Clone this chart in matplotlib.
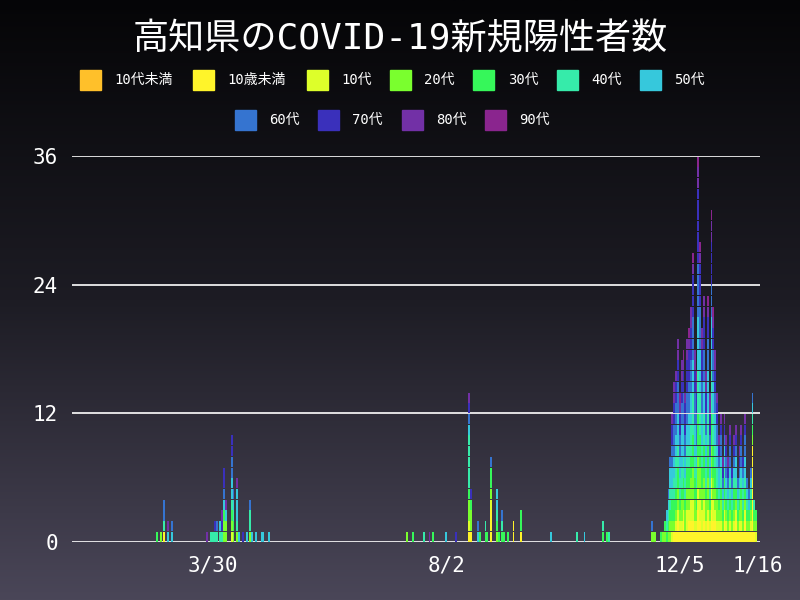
import numpy as np
import matplotlib
matplotlib.use("Agg")
import matplotlib.pyplot as plt
from matplotlib.colors import LinearSegmentedColormap

plt.rcParams['font.family'] = ['DejaVu Sans Mono', 'Noto Sans CJK JP']

age_labels = ['10代未満', '10歳未満', '10代', '20代', '30代', '40代', '50代', '60代', '70代', '80代', '90代']
age_codes = 'abcdefghijk'
age_colors = ['#FFC02A', '#FFF42A', '#DDFF2A', '#7AFF2E', '#36F75A', '#36EBAA', '#36C8DC',
              '#3574D0', '#3A30BB', '#7230A6', '#8A258E']

# sporadic days: offset in days from 2020-01-15, and ages of the cases (one letter per case)
early_offsets = [45, 47, 49, 51, 53,
                 72, 74, 75, 76, 77, 79, 80, 81, 82, 85, 86, 88, 89, 91, 93, 95, 96, 98, 101, 102, 105,
                 179, 182, 188, 191, 193, 200, 205, 212, 213, 217, 218, 221, 222, 224, 227, 228, 230,
                 231, 233, 236, 240, 256, 270, 274, 284, 286, 287]
early_cases = ['e', 'd', 'bfhh', 'gj', 'gh',
               'j', 'f', 'f', 'fi', 'fh', 'fg', 'fij', 'ddeghii', 'ddgj', 'cdefgghhii', 'defgh', 'dfgggj',
               'g', 'i', 'g', 'dffh', 'g', 'g', 'g', 'g', 'g',
               'd', 'e', 'f', 'j', 'e', 'g', 'i', 'bcddefffffghij', 'bddei', 'gh', 'e', 'ef', 'e',
               'bbbcdeeh', 'defgg', 'e', 'efh', 'e', 'e', 'bb', 'bee', 'g', 'f', 'g', 'ef', 'e', 'f']

# winter wave: consecutive days from 2020-11-19
winter_start = '2020-11-19'
winter_cases = ['', 'dh', 'd', 'd', '', '', 'e', 'd', 'de', 'efg', 'degfh', 'ddeffggh',
                'cdeefgghhiij', 'bdeeffgghhhiijj', 'bcdeefffgghhhiij', 'bbcddeeffggghhhiijj',
                'bcdeffgghhiijk', 'bcddeffgggghhiijj', 'bbcdeeffggghhhiijk', 'bddeffgghhiiij',
                'bccddeeffgghhhiiijj', 'bbcddeeffggghhhiiijk', 'bbccddeefffggghhhiiijj',
                'bbccdddeeeffffggghhhhiiiijk', 'bcddeeffggghhhiijj', 'bcdeeffgghhhiijk',
                'bbbccdddeeeeffffggggghhhhhiiiiiiijjk', 'bbccdddeeeffffgggghhhhiiiijk',
                'bccddeeffggghhhiiijj', 'bbccddeeefffggghhhiiijj', 'bcddeffggghhiijj',
                'bbcdddeeefffgggghhhiijk', 'bcdeffgghhiijj', 'bbbcccdddeeeffffggggghhhiiiijjk',
                'bbccddeeefffggghhhiijk', 'bbcddeeffggghhiijj', 'bcddeffgghhiij', 'bcdefgghij',
                'bcddeffghhij', 'bdefghij', 'bbcdeefgghij', 'bcdefghhij', 'bdefghij', 'bcdeffghhij',
                'bdefghi', 'bcdeefghij', 'bbcdefgghij', 'bdefgh', 'bcdefghij', 'bcddefghhij',
                'bdeffghi', 'bbcdefgghhij', 'bdefgh', 'bdegh', 'bcdefgh', 'bbbbbbbbbdefgh', 'bdef', 'cde']

x_ticks = ['2020-03-30', '2020-08-02', '2020-12-05', '2021-01-16']
x_tick_labels = ['3/30', '8/2', '12/5', '1/16']
y_ticks = [0, 12, 24, 36]

base = np.datetime64('2020-01-15')
dates = [base + np.timedelta64(o, 'D') for o in early_offsets]
dates += [np.datetime64(winter_start) + np.timedelta64(i, 'D') for i in range(len(winter_cases))]
cases = early_cases + winter_cases
xnum = np.array([(d - base).astype(int) for d in dates], dtype=float)

fig = plt.figure(figsize=(8, 6), dpi=100)
bg = fig.add_axes([0, 0, 1, 1], zorder=-10)
grad = np.linspace(0, 1, 256)[:, None]
cm = LinearSegmentedColormap.from_list('bg', ['#050507', '#1d1c24', '#4a4658'])
bg.imshow(grad, aspect='auto', cmap=cm, extent=[0, 1, 0, 1])
bg.axis('off')

ax = fig.add_axes([0.09, 0.0967, 0.86, 0.6433])
ax.patch.set_alpha(0)
for y in y_ticks:
    ax.axhline(y, color='white', lw=1.2, zorder=0)

bottoms = np.zeros(len(cases))
for k, code in enumerate(age_codes):
    for n in range(max(c.count(code) for c in cases)):
        h = np.array([1.0 if c.count(code) > n else 0.0 for c in cases])
        m = h > 0
        ax.bar(xnum[m], h[m] - 0.06, bottom=bottoms[m], width=1.0, color=age_colors[k],
               edgecolor='none', linewidth=0, zorder=2, align='center')
        bottoms += h

ax.set_xlim(-0.5, (np.datetime64('2021-01-17') - base).astype(int))
ax.set_ylim(0, 36)
ax.set_yticks(y_ticks)
ax.set_yticklabels([str(v) for v in y_ticks])
ax.set_xticks([(np.datetime64(t) - base).astype(int) for t in x_ticks])
ax.set_xticklabels(x_tick_labels)
ax.tick_params(colors='white', labelsize=15, length=0, pad=10)
for s in ax.spines.values():
    s.set_visible(False)

fig.text(0.5, 0.935, '高知県のCOVID-19新規陽性者数', color='white', fontsize=26, ha='center', va='center')

row1_sq = [80, 193, 307, 390, 473, 557, 640]
row1_tx = [114, 227, 341, 424, 508, 591, 674]
row2_sq = [235, 318, 402, 485]
row2_tx = [269, 352, 436, 519]
for i in range(11):
    if i < 7:
        sx, tx, yc = row1_sq[i], row1_tx[i], 80
    else:
        sx, tx, yc = row2_sq[i - 7], row2_tx[i - 7], 120
    fig.patches.append(plt.Rectangle((sx / 800, 1 - (yc + 10) / 600), 21 / 800, 20 / 600,
                                     transform=fig.transFigure, color=age_colors[i]))
    fig.text(tx / 800, 1 - yc / 600, age_labels[i], color='white', fontsize=10, va='center')

fig.savefig('out.png', dpi=100)
